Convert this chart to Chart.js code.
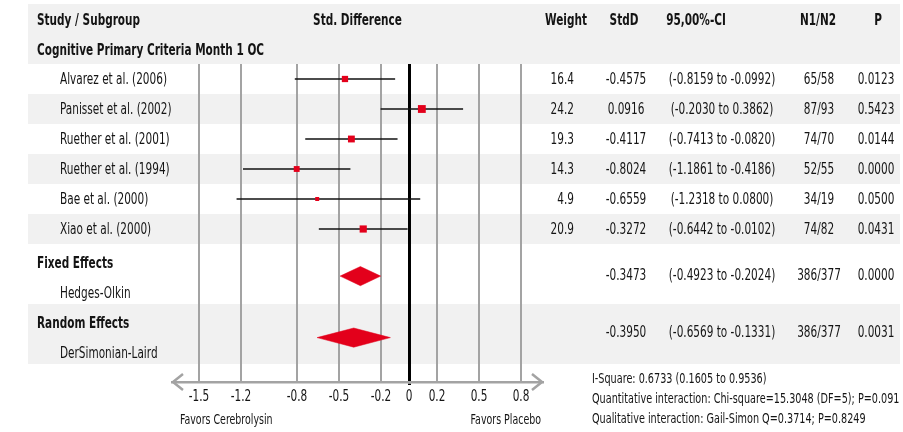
<!DOCTYPE html>
<html>
<head>
<meta charset="utf-8">
<script src="https://cdn.jsdelivr.net/npm/chart.js@4.4.0/dist/chart.umd.min.js"></script>
<style>
  html, body { margin: 0; padding: 0; background: #fff; }
  #wrap { width: 903px; height: 432px; position: relative; }
</style>
</head>
<body>
<div id="wrap"><canvas id="forest"></canvas></div>
<script>
// individual studies
const studyNames = ['Alvarez et al. (2006)', 'Panisset et al. (2002)', 'Ruether et al. (2001)',
    'Ruether et al. (1994)', 'Bae et al. (2000)', 'Xiao et al. (2000)'];
const studyWeight = [16.4, 24.2, 19.3, 14.3, 4.9, 20.9];
const studyStdD = [-0.4575, 0.0916, -0.4117, -0.8024, -0.6559, -0.3272];
const studyLow = [-0.8159, -0.2030, -0.7413, -1.1861, -1.2318, -0.6442];
const studyHigh = [-0.0992, 0.3862, -0.0820, -0.4186, 0.0800, -0.0102];
const studyN = ['65/58', '87/93', '74/70', '52/55', '34/19', '74/82'];
const studyP = ['0.0123', '0.5423', '0.0144', '0.0000', '0.0500', '0.0431'];

// pooled estimates
const pooledNames = ['Fixed Effects', 'Random Effects'];
const pooledMethods = ['Hedges-Olkin', 'DerSimonian-Laird'];
const pooledStdD = [-0.3473, -0.3950];
const pooledLow = [-0.4923, -0.6569];
const pooledHigh = [-0.2024, -0.1331];
const pooledN = ['386/377', '386/377'];
const pooledP = ['0.0000', '0.0031'];

const axisTicks = [-1.5, -1.2, -0.8, -0.5, -0.2, 0, 0.2, 0.5, 0.8];
const subgroupTitle = 'Cognitive Primary Criteria Month 1 OC';
const heterogeneity = [
    'I-Square: 0.6733 (0.1605 to 0.9536)',
    'Quantitative interaction: Chi-square=15.3048 (DF=5); P=0.091',
    'Qualitative interaction: Gail-Simon Q=0.3714; P=0.8249'
];

const red = '#e3001b';
const ink = '#141414';
const gridGrey = '#a3a3a3';

// pick a narrow face if there is one, then squeeze to the reference width
const probe = document.createElement('canvas').getContext('2d');
function hasFont(name) {
    const s = 'Alvarez et al. (2006) 0.0123';
    probe.font = '20px monospace';
    const base = probe.measureText(s).width;
    probe.font = `20px "${name}", monospace`;
    return Math.abs(probe.measureText(s).width - base) > 0.5;
}
const family = ['Liberation Sans Narrow', 'DejaVu Sans Condensed', 'Open Sans'].find(hasFont) || 'sans-serif';
probe.font = `15px "${family}"`;
const squeeze = 107 / probe.measureText(studyNames[0]).width;

function label(ctx, str, x, y, size, opts = {}) {
    ctx.save();
    ctx.font = `${opts.bold ? 'bold ' : ''}${size}px "${family}"`;
    ctx.fillStyle = ink;
    ctx.textBaseline = 'middle';
    ctx.textAlign = opts.align || 'left';
    ctx.translate(x, y);
    ctx.scale(squeeze, 1);
    ctx.fillText(str, 0, 0);
    ctx.restore();
}

// row layout in y-axis units (30px per unit)
const studyRow = i => i + 0.5;
const pooledRow = [7.07, 9.12];
const pooledValueRow = [7.07, 8.97];

const tableBands = {
    id: 'tableBands',
    beforeDraw(chart) {
        const { ctx } = chart;
        const y = chart.scales.y;
        ctx.save();
        ctx.fillStyle = '#f1f1f1';
        ctx.fillRect(28, 4, 872, y.getPixelForValue(0) - 4);
        [[1, 2], [3, 4], [5, 6], [8, 10]].forEach(([a, b]) => {
            const top = y.getPixelForValue(a);
            ctx.fillRect(28, top, 872, y.getPixelForValue(b) - top);
        });
        ctx.restore();
    }
};

const tableText = {
    id: 'tableText',
    afterDraw(chart) {
        const { ctx, chartArea } = chart;
        const x = chart.scales.x;
        const y = chart.scales.y;
        const { left, right, bottom } = chartArea;

        // arrow heads on the axis
        ctx.save();
        ctx.strokeStyle = gridGrey;
        ctx.lineWidth = 2.5;
        ctx.beginPath();
        ctx.moveTo(left + 11, bottom - 8); ctx.lineTo(left + 1, bottom); ctx.lineTo(left + 11, bottom + 8);
        ctx.moveTo(right - 11, bottom - 8); ctx.lineTo(right - 1, bottom); ctx.lineTo(right - 11, bottom + 8);
        ctx.stroke();
        ctx.restore();

        // tick labels, narrow like the rest of the text
        x.ticks.forEach(t => label(ctx, String(t.value), x.getPixelForValue(t.value), bottom + 15, 15, { align: 'center' }));

        // header
        label(ctx, 'Study / Subgroup', 37, 21, 15, { bold: true });
        label(ctx, 'Std. Difference', (left + right) / 2, 21, 15, { bold: true, align: 'center' });
        label(ctx, 'Weight', 566, 21, 15, { bold: true, align: 'center' });
        label(ctx, 'StdD', 624, 21, 15, { bold: true, align: 'center' });
        label(ctx, '95,00%-CI', 696, 21, 15, { bold: true, align: 'center' });
        label(ctx, 'N1/N2', 818, 21, 15, { bold: true, align: 'center' });
        label(ctx, 'P', 878, 21, 15, { bold: true, align: 'center' });
        label(ctx, subgroupTitle, 37, 51, 15, { bold: true });

        studyNames.forEach((name, i) => {
            const py = y.getPixelForValue(studyRow(i)) + 1;
            label(ctx, name, 60, py, 15);
            label(ctx, studyWeight[i].toFixed(1), 574, py, 15, { align: 'right' });
            label(ctx, studyStdD[i].toFixed(4), 626, py, 15, { align: 'center' });
            label(ctx, `(${studyLow[i].toFixed(4)} to ${studyHigh[i].toFixed(4)})`, 722, py, 15, { align: 'center' });
            label(ctx, studyN[i], 819, py, 15, { align: 'center' });
            label(ctx, studyP[i], 876, py, 15, { align: 'center' });
        });

        pooledNames.forEach((name, k) => {
            const top = y.getPixelForValue(6 + 2 * k);
            label(ctx, name, 37, top + 20, 15, { bold: true });
            label(ctx, pooledMethods[k], 60, top + 50, 15);
            const py = y.getPixelForValue(pooledValueRow[k]);
            label(ctx, pooledStdD[k].toFixed(4), 626, py, 15, { align: 'center' });
            label(ctx, `(${pooledLow[k].toFixed(4)} to ${pooledHigh[k].toFixed(4)})`, 722, py, 15, { align: 'center' });
            label(ctx, pooledN[k], 819, py, 15, { align: 'center' });
            label(ctx, pooledP[k], 876, py, 15, { align: 'center' });
        });

        label(ctx, 'Favors Cerebrolysin', left + 8, 420, 13.5);
        label(ctx, 'Favors Placebo', right - 2, 420, 13.5, { align: 'right' });
        heterogeneity.forEach((line, k) => label(ctx, line, 592, 379 + 20 * k, 13.8));
    }
};

const ciSets = studyNames.map((name, i) => ({
    label: name,
    data: [{ x: studyLow[i], y: studyRow(i) }, { x: studyHigh[i], y: studyRow(i) }],
    showLine: true,
    borderColor: '#111',
    borderWidth: 1.3,
    pointRadius: 0,
    order: 2
}));

const squareSet = {
    label: 'StdD',
    data: studyStdD.map((v, i) => ({ x: v, y: studyRow(i) })),
    pointStyle: 'rect',
    pointRadius: studyWeight.map(w => (3 + 0.2 * w) / Math.SQRT2),
    backgroundColor: red,
    borderColor: red,
    borderWidth: 0,
    order: 0
};

const diamondSets = pooledStdD.map((est, k) => {
    const yc = pooledRow[k], h = 0.32;
    return {
        label: pooledNames[k],
        data: [{ x: pooledLow[k], y: yc }, { x: est, y: yc - h }, { x: pooledHigh[k], y: yc },
            { x: est, y: yc + h }, { x: pooledLow[k], y: yc }],
        showLine: true,
        fill: 'shape',
        tension: 0,
        backgroundColor: red,
        borderColor: red,
        borderWidth: 0.5,
        pointRadius: 0,
        order: 1
    };
});

new Chart(document.getElementById('forest'), {
    type: 'scatter',
    data: { datasets: [squareSet, ...diamondSets, ...ciSets] },
    options: {
        responsive: true,
        maintainAspectRatio: false,
        animation: false,
        events: [],
        layout: { padding: { left: 172, right: 360, top: 64, bottom: 0 } },
        plugins: {
            legend: { display: false },
            tooltip: { enabled: false }
        },
        scales: {
            x: {
                type: 'linear',
                min: -1.693,
                max: 0.957,
                afterBuildTicks: s => { s.ticks = axisTicks.map(v => ({ value: v })); },
                afterFit: s => { s.height = 50; },
                grid: {
                    color: c => (c.tick && c.tick.value === 0 ? '#000' : gridGrey),
                    lineWidth: c => (c.tick && c.tick.value === 0 ? 3 : 2),
                    drawTicks: true,
                    tickLength: 3,
                    tickColor: c => (c.tick && c.tick.value === 0 ? '#000' : 'rgba(0,0,0,0)'),
                    tickWidth: 3
                },
                border: { color: gridGrey, width: 2.5 },
                ticks: { display: false, autoSkip: false }
            },
            y: { type: 'linear', reverse: true, min: 0, max: 10.6, display: false }
        }
    },
    plugins: [tableBands, tableText]
});
</script>
</body>
</html>
